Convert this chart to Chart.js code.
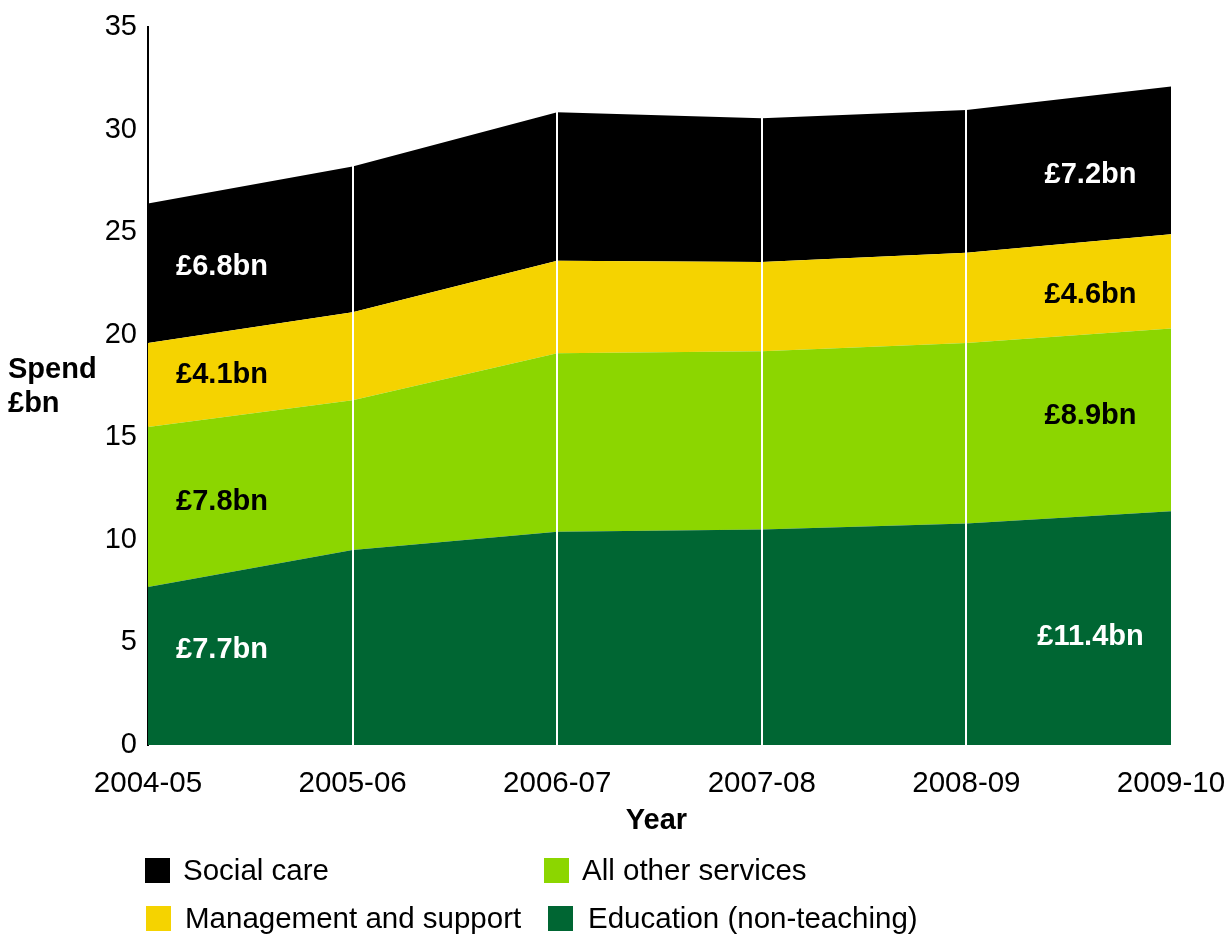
<!DOCTYPE html>
<html>
<head>
<meta charset="utf-8">
<script src="https://cdn.jsdelivr.net/npm/chart.js@4/dist/chart.umd.min.js"></script>
<style>
  html, body { margin: 0; padding: 0; background: #ffffff; }
  #wrap { width: 1229px; height: 936px; position: relative; }
</style>
</head>
<body>
<div id="wrap"><canvas id="c" width="1229" height="936"></canvas></div>
<script>
// ---- Data ----
const categories = ['2004-05', '2005-06', '2006-07', '2007-08', '2008-09', '2009-10'];
const education = [7.7, 9.5, 10.4, 10.5, 10.8, 11.4];
const otherServices = [7.8, 7.3, 8.7, 8.7, 8.8, 8.9];
const management = [4.1, 4.3, 4.5, 4.35, 4.4, 4.6];
const socialCare = [6.8, 7.1, 7.25, 7.0, 6.95, 7.2];
const yTicks = [0, 5, 10, 15, 20, 25, 30, 35];

const FONT = "'Liberation Sans', Arial, Helvetica, sans-serif";
const COLORS = {
  education: '#006633',
  other: '#8cd600',
  management: '#f5d300',
  social: '#000000'
};

// label placement (value-space centre heights, and which end of the chart)
const labelSpecs = [
  { ds: 0, idx: 0, at: 4.63, side: 'left', color: '#ffffff' },
  { ds: 1, idx: 0, at: 11.85, side: 'left', color: '#000000' },
  { ds: 2, idx: 0, at: 18.04, side: 'left', color: '#000000' },
  { ds: 3, idx: 0, at: 23.3, side: 'left', color: '#ffffff' },
  { ds: 0, idx: 5, at: 5.26, side: 'right', color: '#ffffff' },
  { ds: 1, idx: 5, at: 16.04, side: 'right', color: '#000000' },
  { ds: 2, idx: 5, at: 21.94, side: 'right', color: '#000000' },
  { ds: 3, idx: 5, at: 27.79, side: 'right', color: '#ffffff' }
];

const extras = {
  id: 'extras',
  afterDatasetsDraw(chart) {
    const { ctx, scales: { x, y }, chartArea } = chart;
    const ds = chart.data.datasets;
    ctx.save();
    // white vertical separators up to the top of the stack
    ctx.strokeStyle = '#ffffff';
    ctx.lineWidth = 2;
    for (let i = 1; i < categories.length - 1; i++) {
      let total = 0;
      ds.forEach(d => { total += d.data[i]; });
      const px = Math.round(x.getPixelForValue(i));
      ctx.beginPath();
      ctx.moveTo(px, y.getPixelForValue(0));
      ctx.lineTo(px, y.getPixelForValue(total) - 1);
      ctx.stroke();
    }
    // value labels
    ctx.font = 'bold 29px ' + FONT;
    ctx.textAlign = 'center';
    ctx.textBaseline = 'middle';
    labelSpecs.forEach(s => {
      const v = ds[s.ds].data[s.idx];
      const txt = '£' + v.toFixed(1) + 'bn';
      const cx = s.side === 'left' ? chartArea.left + 74 : chartArea.right - 80.5;
      ctx.fillStyle = s.color;
      ctx.fillText(txt, cx, y.getPixelForValue(s.at));
    });
    ctx.restore();
  },
  afterDraw(chart) {
    const { ctx, chartArea } = chart;
    const ds = chart.data.datasets;
    ctx.save();
    // y-axis title (horizontal)
    ctx.font = 'bold 29px ' + FONT;
    ctx.fillStyle = '#000000';
    ctx.textAlign = 'left';
    ctx.textBaseline = 'middle';
    ctx.fillText('Spend', 8, 370);
    ctx.fillText('£bn', 8, 404);
    // x-axis title
    ctx.textAlign = 'center';
    ctx.fillText('Year', (chartArea.left + chartArea.right) / 2 - 3, 821);
    // legend
    const order = [
      { ds: 3, sx: 145, sy: 858, tx: 183 },
      { ds: 1, sx: 544, sy: 858, tx: 582 },
      { ds: 2, sx: 146, sy: 906, tx: 185 },
      { ds: 0, sx: 548, sy: 906, tx: 588 }
    ];
    ctx.font = '29.5px ' + FONT;
    ctx.textAlign = 'left';
    order.forEach(o => {
      ctx.fillStyle = ds[o.ds].backgroundColor;
      ctx.fillRect(o.sx, o.sy, 25, 25);
      ctx.fillStyle = '#000000';
      ctx.fillText(ds[o.ds].label, o.tx, o.sy + 14);
    });
    ctx.restore();
  }
};

const mk = (label, data, color, fill) => ({
  label, data,
  backgroundColor: color,
  borderColor: color,
  borderWidth: 0,
  pointRadius: 0,
  pointHoverRadius: 0,
  tension: 0,
  fill
});

new Chart(document.getElementById('c'), {
  type: 'line',
  data: {
    labels: categories,
    datasets: [
      mk('Education (non-teaching)', education, COLORS.education, 'origin'),
      mk('All other services', otherServices, COLORS.other, '-1'),
      mk('Management and support', management, COLORS.management, '-1'),
      mk('Social care', socialCare, COLORS.social, '-1')
    ]
  },
  options: {
    responsive: false,
    animation: false,
    events: [],
    layout: { padding: { left: 0, top: 27, right: 58, bottom: 91 } },
    plugins: {
      legend: { display: false },
      tooltip: { enabled: false },
      title: { display: false }
    },
    scales: {
      x: {
        type: 'category',
        offset: false,
        grid: { display: false, drawTicks: false },
        border: { display: false },
        ticks: {
          color: '#000000',
          font: { family: FONT, size: 29.5 },
          padding: 21,
          maxRotation: 0,
          autoSkip: false
        },
        afterFit(scale) {
          scale.height = 100;
          scale.paddingRight = 0;
          scale.paddingLeft = 0;
        }
      },
      y: {
        stacked: true,
        min: 0,
        max: 35,
        grid: { display: false, drawTicks: false },
        border: { display: true, color: '#000000', width: 2 },
        afterBuildTicks(scale) { scale.ticks = yTicks.map(v => ({ value: v })); },
        ticks: {
          color: '#000000',
          font: { family: FONT, size: 29 },
          padding: 11
        },
        afterFit(scale) {
          scale.width = 148;
          scale.paddingTop = 0;
          scale.paddingBottom = 0;
        }
      }
    }
  },
  plugins: [extras]
});
</script>
</body>
</html>
